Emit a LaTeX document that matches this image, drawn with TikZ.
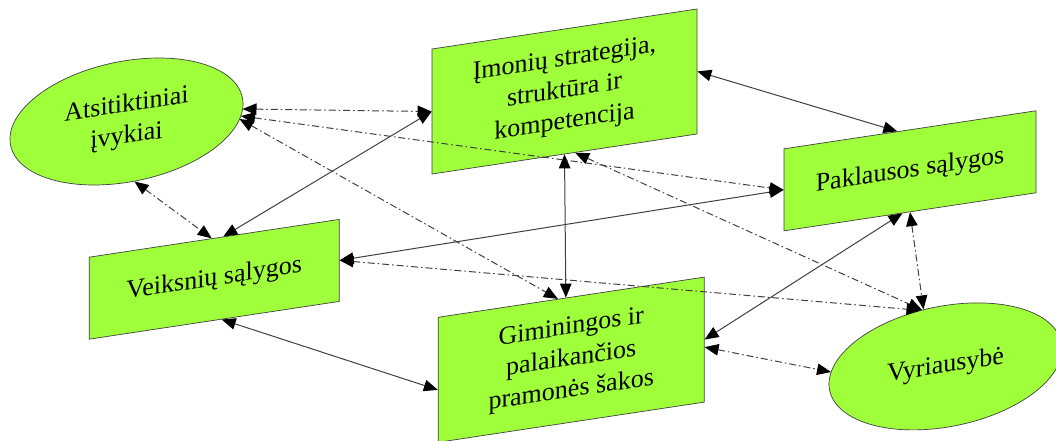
\documentclass[tikz,border=0pt]{standalone}
\usepackage{fontspec}
\setmainfont{Liberation Serif}
\usetikzlibrary{arrows.meta,shapes.geometric,calc}
\definecolor{limefill}{RGB}{158,255,58}
\definecolor{linkgray}{RGB}{64,64,64}
\begin{document}
\begin{tikzpicture}[x=1pt,y=-1pt,
  factor/.style={draw=black!75, line width=0.7pt, fill=limefill,
    inner sep=0pt, align=center, font=\fontsize{26}{31.5}\selectfont},
  factorbox/.style={factor, rectangle},
  factoroval/.style={factor, ellipse},
  link/.style={linkgray, line width=1pt,
    {Triangle[length=14pt,width=11.5pt,color=black]}-{Triangle[length=14pt,width=11.5pt,color=black]}},
  solidlink/.style={link},
  dashlink/.style={link, dash pattern=on 7pt off 3pt on 1.5pt off 3pt},
]
\useasboundingbox (0,0) rectangle (1056,441);

% all shapes and their texts share one upward slant
\begin{scope}[yslant=0.151, transform shape]
  % the four determinants
  \node[factorbox, minimum width=265pt, minimum height=125pt] (firm) at (564.5,176.74)
    {Įmonių strategija,\\struktūra ir\\kompetencija};
  \node[factorbox, minimum width=252pt, minimum height=82pt] (demand) at (910,308.21)
    {Paklausos sąlygos};
  \node[factorbox, minimum width=250pt, minimum height=82pt] (inputs) at (214.2,311.64)
    {Veiksnių sąlygos};
  \node[factorbox, minimum width=266pt, minimum height=125pt] (related) at (571.2,445.95)
    {Giminingos ir\\palaikančios\\pramonės šakos};
  % the two outside influences
  \node[factoroval, minimum width=233pt, minimum height=122pt] (chance) at (126.5,140.6)
    {Atsitiktiniai\\įvykiai};
  \node[factoroval, minimum width=233pt, minimum height=122pt] (gov) at (945.5,509.17)
    {Vyriausybė};
\end{scope}

% links between the determinants
\draw[solidlink] ($(inputs.north west)!0.536!(inputs.north east)$) -- (firm.west);
\draw[solidlink] (firm.east) -- ($(demand.north west)!0.45!(demand.north east)$);
\draw[solidlink] (firm.south) -- ($(related.north west)!0.48!(related.north east)$);
\draw[solidlink] (demand.west) -- (inputs.east);
\draw[solidlink] ($(inputs.south west)!0.53!(inputs.south east)$) -- ($(related.north west)!0.58!(related.south west)$);
\draw[solidlink] ($(demand.south west)!0.47!(demand.south east)$) -- (related.east);

% influence of chance
\draw[dashlink] ([shift={(116,-12.5)}]chance.center) -- (firm.west);
\draw[dashlink] ([shift={(114.5,-5.5)}]chance.center) -- (demand.west);
\draw[dashlink] ([shift={(113,-2.5)}]chance.center) -- ($(related.north west)!0.45!(related.north east)$);
\draw[dashlink] ([shift={(8,60)}]chance.center) -- ($(inputs.north west)!0.49!(inputs.north east)$);

% influence of government
\draw[dashlink] ($(firm.south west)!0.54!(firm.south east)$) -- ([shift={(-23.5,-56.5)}]gov.center);
\draw[dashlink] ($(related.north east)!0.56!(related.south east)$) -- ([shift={(-114.5,5.6)}]gov.center);
\draw[dashlink] (demand.south) -- ([shift={(-22,-57)}]gov.center);
\draw[dashlink] (inputs.east) -- ([shift={(-25,-56)}]gov.center);
\end{tikzpicture}
\end{document}
